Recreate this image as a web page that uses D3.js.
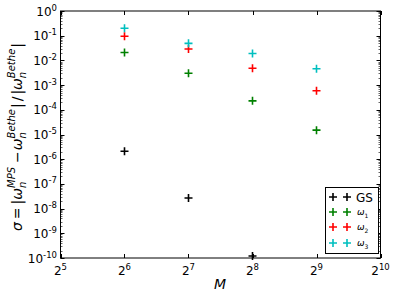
<!DOCTYPE html>
<html><head><meta charset="utf-8">
<script src="https://cdn.jsdelivr.net/npm/d3@7"></script>
<style>body{margin:0;background:#fff}svg{display:block}text{font-family:"DejaVu Sans",sans-serif}</style>
</head><body>
<script>
const M = [64, 128, 256, 512];
const gs = [2.1e-6, 2.7e-8, 1.2e-10, null];
const w1 = [0.021, 0.003, 2.3e-4, 1.5e-5];
const w2 = [0.095, 0.029, 0.0048, 5.9e-4];
const w3 = [0.2, 0.049, 0.019, 0.0046];
const seriesNames = ["GS", "ω1", "ω2", "ω3"];
const seriesColors = ["#000000", "#008000", "#ff0000", "#00bfbf"];
const xExps = [5, 6, 7, 8, 9, 10];
const yExps = [0, -1, -2, -3, -4, -5, -6, -7, -8, -9, -10];

const W = 395, H = 293;
const L = 60.5, R = 380.5, T = 11, B = 258;
const svg = d3.select("body").append("svg").attr("width", W).attr("height", H);
const x = d3.scaleLog().base(2).domain([32, 1024]).range([L, R]);
const y = d3.scaleLog().domain([1e-10, 1]).range([B, T]);

svg.append("rect").attr("x", L).attr("y", T).attr("width", R - L).attr("height", B - T)
  .attr("fill", "none").attr("stroke", "#000").attr("stroke-width", 1);

const g = svg.append("g");
xExps.forEach(e => {
  const px = Math.round(x(Math.pow(2, e))) + 0.5;
  g.append("line").attr("x1", px).attr("x2", px).attr("y1", B).attr("y2", B - 4).attr("stroke", "#000");
  g.append("line").attr("x1", px).attr("x2", px).attr("y1", T).attr("y2", T + 4).attr("stroke", "#000");
  const t = svg.append("text").attr("x", x(Math.pow(2, e))).attr("y", B + 17).attr("text-anchor", "middle")
    .attr("font-size", 12);
  t.append("tspan").text("2");
  t.append("tspan").attr("dy", -5).attr("font-size", 8.5).text(e);
});
yExps.forEach(e => {
  const py = Math.round(y(Math.pow(10, e))) + 0.5;
  g.append("line").attr("x1", L).attr("x2", L + 4).attr("y1", py).attr("y2", py).attr("stroke", "#000");
  g.append("line").attr("x1", R).attr("x2", R - 4).attr("y1", py).attr("y2", py).attr("stroke", "#000");
  const t = svg.append("text").attr("x", 57).attr("y", y(Math.pow(10, e)) + 4.5).attr("text-anchor", "end")
    .attr("font-size", 12);
  t.append("tspan").text("10");
  t.append("tspan").attr("dy", -5).attr("font-size", 8.5).text(e);
  if (e > -10) {
    for (let k = 2; k <= 9; k++) {
      const v = k * Math.pow(10, e - 1);
      const pm = Math.round(y(v)) + 0.5;
      g.append("line").attr("x1", L).attr("x2", L + 2).attr("y1", pm).attr("y2", pm).attr("stroke", "#000").attr("stroke-width", 0.6);
      g.append("line").attr("x1", R).attr("x2", R - 2).attr("y1", pm).attr("y2", pm).attr("stroke", "#000").attr("stroke-width", 0.6);
    }
  }
});

function plus(sel, cx, cy, color) {
  const s = 4;
  sel.append("path").attr("d", `M${cx - s},${cy}H${cx + s}M${cx},${cy - s}V${cy + s}`)
    .attr("stroke", color).attr("stroke-width", 1.6).attr("fill", "none");
}
[gs, w1, w2, w3].forEach((vals, i) => {
  vals.forEach((v, j) => {
    if (v == null) return;
    plus(svg, x(M[j]), y(v), seriesColors[i]);
  });
});

const lg = svg.append("g");
lg.append("rect").attr("x", 325.5).attr("y", 187.5).attr("width", 53).attr("height", 66)
  .attr("fill", "#fff").attr("stroke", "#000").attr("stroke-width", 1);
const rowsY = [197, 212, 227, 243];
seriesNames.forEach((n, i) => {
  plus(lg, 333, rowsY[i], seriesColors[i]);
  plus(lg, 347, rowsY[i], seriesColors[i]);
  if (i === 0) {
    lg.append("text").attr("x", 356).attr("y", rowsY[i] + 4.5).attr("font-size", 12).text("GS");
  } else {
    const t = lg.append("text").attr("x", 357).attr("y", rowsY[i] + 3).attr("font-size", 9)
      .attr("font-family", "DejaVu Serif").attr("font-style", "italic");
    t.append("tspan").text("ω");
    t.append("tspan").attr("dy", 3).attr("font-size", 6).attr("font-style", "normal").text(String(i));
  }
});

svg.append("text").attr("x", 220).attr("y", 289).attr("text-anchor", "middle")
  .attr("font-family", "DejaVu Serif").attr("font-style", "italic").attr("font-size", 14).text("M");

const ylg = svg.append("g");
const inner = ylg.append("g");
const FS = 14, SS = 10;
let cx = 0;
function piece(txt, italic, size, dy) {
  const t = inner.append("text").attr("x", cx).attr("y", dy).attr("font-family", "DejaVu Serif")
    .attr("font-size", size).attr("font-style", italic ? "italic" : "normal").text(txt);
  return t.node().getComputedTextLength();
}
function adv(txt, italic, size, dy, extra) { cx += piece(txt, italic, size, dy) + (extra || 0); }
function omega(sup) {
  cx += piece("ω", true, FS, 0);
  const a = piece("n", true, SS, 4);
  const b = piece(sup, true, SS, -7);
  cx += Math.max(a, b) + 1;
}
adv("σ", true, FS, 0, 3);
adv("=", false, FS, 0, 3);
adv("|", false, FS, 0, 0);
omega("MPS");
cx += 3;
adv("−", false, FS, 0, 1);
omega("Bethe");
adv("|", false, FS, 0, 2);
adv("/", false, FS, 0, 2);
adv("|", false, FS, 0, 0);
omega("Bethe");
adv("|", false, FS, 0, 0);
const total = cx;
inner.attr("transform", `translate(${-total / 2},0)`);
ylg.attr("transform", "translate(22,137) rotate(-90)");
</script>
</body></html>
